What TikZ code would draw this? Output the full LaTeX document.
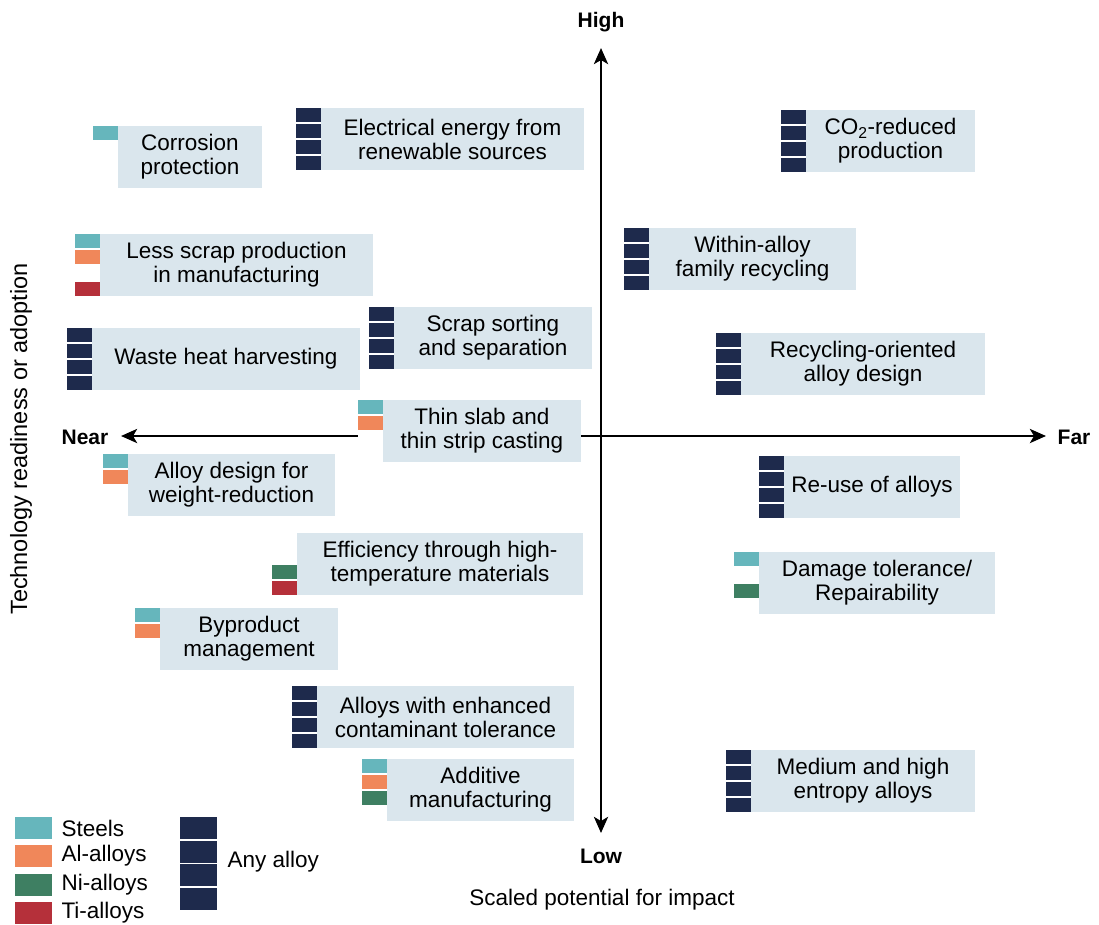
\documentclass[tikz,border=0pt]{standalone}
\usepackage{fontspec}
\setmainfont{Liberation Sans}
\usetikzlibrary{positioning, arrows.meta}
\definecolor{steelc}{HTML}{66B6BC}
\definecolor{alc}{HTML}{F0875A}
\definecolor{nic}{HTML}{3E7F62}
\definecolor{tic}{HTML}{B5303A}
\definecolor{anyc}{HTML}{1E2A4C}
\definecolor{boxblue}{HTML}{DAE6ED}
\tikzstyle{itembox} = [fill=boxblue, minimum height=62pt, inner sep=2pt, outer sep=0pt, align=center, font=\fontsize{22.5}{24}\selectfont]
\tikzstyle{axislabel} = [font=\bfseries\fontsize{21}{24}\selectfont]
\tikzstyle{plainlabel} = [font=\fontsize{22.5}{24}\selectfont]
\tikzstyle{axisline} = [line width=2.9pt, {Stealth[length=16pt,width=14pt,inset=4pt]}-{Stealth[length=16pt,width=14pt,inset=4pt]}]
\tikzstyle{legendkey} = [minimum width=37pt, minimum height=22pt, inner sep=0pt, outer sep=0pt]
% four alloy slots left of a box: steel, Al, Ni, Ti (white = empty)
\newcommand{\alloytags}[5]{%
  \foreach \c [count=\i from 0] in {#2,#3,#4,#5}
    \fill[\c] ([shift={(-25,\i*16)}]#1.north west) rectangle ++(25,14);%
}

\begin{document}
\begin{tikzpicture}[x=1pt, y=-1pt]
  \path[use as bounding box, fill=white] (0,0) rectangle (1099,924);

  % axes
  \node[axislabel] (high) at (601,22) {High};
  \node[axislabel] (low) at (601,856) {Low};
  \node[axislabel] (near) at (85,437) {Near};
  \node[axislabel] (far) at (1074,437) {Far};
  \coordinate (ytop) at (601,48);
  \coordinate (ybot) at (601,833);
  \coordinate (xleft) at (121,436);
  \coordinate (xright) at (1046,436);
  \draw[axisline] (ybot) -- (ytop);
  \draw[axisline] (xleft) -- (xright);
  \node[plainlabel, rotate=90, font=\fontsize{23.5}{24}\selectfont] (ylab) at (21,439) {Technology readiness or adoption};
  \node[plainlabel] (xlab) at (602,900) {Scaled potential for impact};

  % measures
  \node[itembox, minimum width=144pt] (corrosion) at (190,157) {Corrosion\\protection};
  \alloytags{corrosion}{steelc}{white}{white}{white}
  \node[itembox, minimum width=263pt] (energy) at (452.5,139) {Electrical energy from\\renewable sources};
  \alloytags{energy}{anyc}{anyc}{anyc}{anyc}
  \node[itembox, minimum width=169pt] (cotwo) at (890.5,141) {CO\textsubscript{2}-reduced\\production};
  \alloytags{cotwo}{anyc}{anyc}{anyc}{anyc}
  \node[itembox, minimum width=273pt] (lessscrap) at (236.5,265) {Less scrap production\\in manufacturing};
  \alloytags{lessscrap}{steelc}{alc}{white}{tic}
  \node[itembox, minimum width=207pt] (within) at (752.5,259) {Within-alloy\\family recycling};
  \alloytags{within}{anyc}{anyc}{anyc}{anyc}
  \node[itembox, minimum width=268pt] (wasteheat) at (226,359) {Waste heat harvesting};
  \alloytags{wasteheat}{anyc}{anyc}{anyc}{anyc}
  \node[itembox, minimum width=198pt] (sorting) at (493,338) {Scrap sorting\\and separation};
  \alloytags{sorting}{anyc}{anyc}{anyc}{anyc}
  \node[itembox, minimum width=244pt] (recdesign) at (863,364) {Recycling-oriented\\alloy design};
  \alloytags{recdesign}{anyc}{anyc}{anyc}{anyc}
  \node[itembox, minimum width=198pt] (thinslab) at (482,431) {Thin slab and\\thin strip casting};
  \alloytags{thinslab}{steelc}{alc}{white}{white}
  \node[itembox, minimum width=207pt] (weight) at (231.5,485) {Alloy design for\\weight-reduction};
  \alloytags{weight}{steelc}{alc}{white}{white}
  \node[itembox, minimum width=176pt] (reuse) at (872,487) {Re-use of alloys};
  \alloytags{reuse}{anyc}{anyc}{anyc}{anyc}
  \node[itembox, minimum width=286pt] (hightemp) at (440,564) {Efficiency through high-\\temperature materials};
  \alloytags{hightemp}{white}{white}{nic}{tic}
  \node[itembox, minimum width=236pt] (damage) at (877,583) {Damage tolerance/\\Repairability};
  \alloytags{damage}{steelc}{white}{nic}{white}
  \node[itembox, minimum width=178pt] (byproduct) at (249,639) {Byproduct\\management};
  \alloytags{byproduct}{steelc}{alc}{white}{white}
  \node[itembox, minimum width=257pt] (contam) at (445.5,717) {Alloys with enhanced\\contaminant tolerance};
  \alloytags{contam}{anyc}{anyc}{anyc}{anyc}
  \node[itembox, minimum width=187pt] (additive) at (480.5,790) {Additive\\manufacturing};
  \alloytags{additive}{steelc}{alc}{nic}{white}
  \node[itembox, minimum width=224pt] (entropy) at (863,781) {Medium and high\\entropy alloys};
  \alloytags{entropy}{anyc}{anyc}{anyc}{anyc}

  % legend
  \node[legendkey, fill=steelc] (keysteel) at (33.5,828) {};
  \node[legendkey, fill=alc] (keyal) at (33.5,856) {};
  \node[legendkey, fill=nic] (keyni) at (33.5,885) {};
  \node[legendkey, fill=tic] (keyti) at (33.5,913) {};
  \node[plainlabel, right=6pt of keysteel] {Steels};
  \node[plainlabel, right=6pt of keyal] {Al-alloys};
  \node[plainlabel, right=6pt of keyni] {Ni-alloys};
  \node[plainlabel, right=6pt of keyti] {Ti-alloys};
  \node[legendkey, fill=anyc] (keyany1) at (198.5,828) {};
  \node[legendkey, fill=anyc] (keyany2) at (198.5,851.5) {};
  \node[legendkey, fill=anyc] (keyany3) at (198.5,875) {};
  \node[legendkey, fill=anyc] (keyany4) at (198.5,898.5) {};
  \node[plainlabel, anchor=west] (anylabel) at (224,862) {Any alloy};
\end{tikzpicture}
\end{document}
